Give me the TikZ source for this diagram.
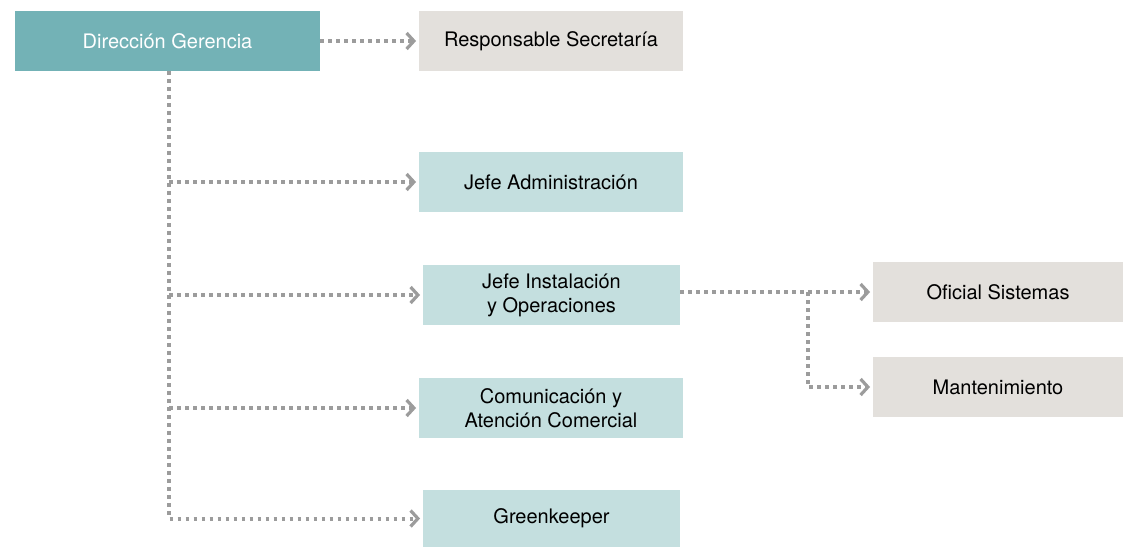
\documentclass[tikz,border=0pt]{standalone}
\usepackage{fontspec}
\setmainfont{TeX Gyre Heros}
\usetikzlibrary{arrows.meta}

\definecolor{headteal}{HTML}{73B2B6}
\definecolor{paleteal}{HTML}{C4DFDF}
\definecolor{sand}{HTML}{E3E0DC}
\definecolor{linegray}{HTML}{9C9C9C}

\begin{document}
\begin{tikzpicture}[x=0.75pt,y=-0.75pt]
\tikzset{
box/.style={minimum width=198pt, minimum height=45pt, inner sep=2pt, align=center,
  font=\fontsize{15}{18}\selectfont, text=black},
head/.style={box, fill=headteal, text=white, minimum width=228.75pt},
staff/.style={box, fill=paleteal},
aux/.style={box, fill=sand, minimum width=187.5pt},
link/.style={draw=linegray, line width=3pt, dash pattern=on 2.8pt off 3.2pt,
  shorten >=2pt, -{Straight Barb[length=5.5pt,width=12pt,line width=2.4pt]}}
}

	% frame
	\useasboundingbox (0,0) rectangle (1123,547);

	% boxes
	\node[head] at (167.5,41) (dg) {Dirección Gerencia};
	\node[aux, minimum width=198pt] at (551,41) (rs) {Responsable Secretaría};

	\node[staff] at (551,182) (ja) {Jefe Administración};
	\node[staff, minimum width=192.75pt] at (551.5,295) (ji) {Jefe Instalación\\y Operaciones};
	\node[staff] at (551,408) (cc) {Comunicación y\\Atención Comercial};
	\node[staff, minimum width=192.75pt, minimum height=42.75pt] at (551.5,518.5) (gk) {Greenkeeper};

	\node[aux] at (998,292) (os) {Oficial Sistemas};
	\node[aux] at (998,387) (mt) {Mantenimiento};

	% links
	\coordinate (trunk) at (169,71);
	\coordinate (split) at (808,292);

	\draw[link] (dg.east) -- (rs.west);
	\draw[link] (trunk) |- (gk.west);
	\draw[link] (trunk |- ja.west) -- (ja.west);
	\draw[link] (trunk |- ji.west) -- (ji.west);
	\draw[link] (trunk |- cc.west) -- (cc.west);

	\draw[link] (os.west -| ji.east) -- (os.west);
	\draw[link] (split) |- (mt.west);

\end{tikzpicture}
\end{document}
